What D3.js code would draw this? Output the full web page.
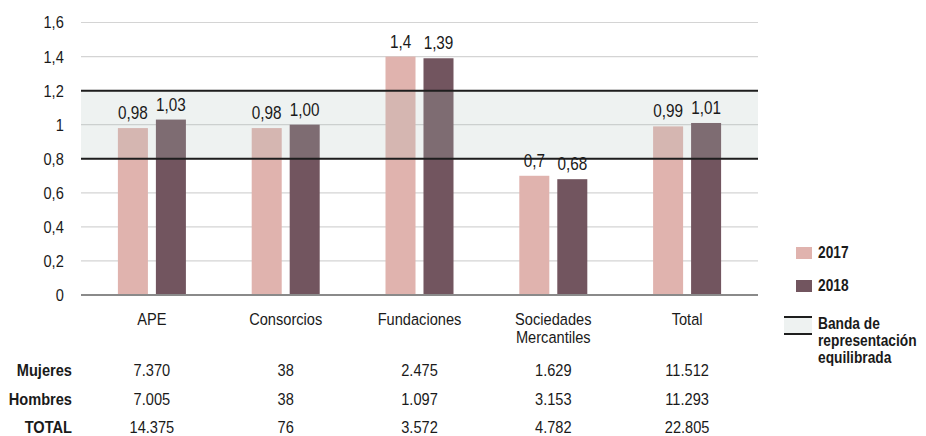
<!DOCTYPE html>
<html><head><meta charset="utf-8">
<script src="https://cdn.jsdelivr.net/npm/d3@7"></script>
<style>body{margin:0;background:#fff}svg{display:block}text{font-family:"Liberation Sans",Arial,sans-serif;fill:#1a1a1a}</style>
</head><body><svg id="c" width="926" height="436"></svg>
<script>
const categories = ["APE","Consorcios","Fundaciones","Sociedades\nMercantiles","Total"];
const years = ["2017","2018"];
const values2017 = [0.98,0.98,1.4,0.7,0.99];
const values2018 = [1.03,1.00,1.39,0.68,1.01];
const labels2017 = ["0,98","0,98","1,4","0,7","0,99"];
const labels2018 = ["1,03","1,00","1,39","0,68","1,01"];
const tickValues = [0,0.2,0.4,0.6,0.8,1,1.2,1.4,1.6];
const tickLabels = ["0","0,2","0,4","0,6","0,8","1","1,2","1,4","1,6"];
const bandRange = [0.8,1.2];
const rowNames = ["Mujeres","Hombres","TOTAL"];
const mujeres = ["7.370","38","2.475","1.629","11.512"];
const hombres = ["7.005","38","1.097","3.153","11.293"];
const totales = ["14.375","76","3.572","4.782","22.805"];
const legendLabels = ["2017","2018"];
const bandLegend = ["Banda de","representación","equilibrada"];

const colors = {"2017":"#e0b3ae","2018":"#72555f"};
const svg = d3.select("#c");
const SX = 0.86;
function txt(x,y,s,size,anchor,weight,sx){
  return svg.append("text").attr("transform",`translate(${x},${y}) scale(${sx||SX},1)`)
    .attr("text-anchor",anchor||"middle").style("font-size",size+"px").style("font-weight",weight||"normal").text(s);
}
const gx0=81, gx1=758;
const y = d3.scaleLinear().domain([0,1.6]).range([295,22.5]);
const x0 = d3.scaleBand().domain(categories).range([85,754]).padding(0);
const x1 = d3.scaleBand().domain(years).range([0,68]).paddingInner(0.21).paddingOuter(0);
const off = x0.bandwidth()/2 - 34;

// gridlines
svg.append("g").selectAll("line").data(tickValues.filter(d=>d>0)).join("line")
  .attr("x1",gx0).attr("x2",gx1).attr("y1",d=>y(d)).attr("y2",d=>y(d))
  .attr("stroke","#d4d4d4").attr("stroke-width",1.2);

// axis labels
const ax = svg.append("g").attr("transform",`translate(${gx0},0)`)
  .call(d3.axisLeft(y).tickValues(tickValues).tickSize(0).tickFormat((d,i)=>tickLabels[i]));
ax.select(".domain").remove();
ax.selectAll("text").attr("x",-20).attr("transform",`scale(${SX},1)`)
  .style("font-size","17px").style("font-family","'Liberation Sans',Arial,sans-serif").attr("fill","#1a1a1a");

// bars
const data = [];
categories.forEach((c,i)=>{
  data.push({c,yr:"2017",v:values2017[i],l:labels2017[i]});
  data.push({c,yr:"2018",v:values2018[i],l:labels2018[i]});
});
svg.append("g").selectAll("rect").data(data).join("rect")
  .attr("x",d=>x0(d.c)+off+x1(d.yr)).attr("width",x1.bandwidth())
  .attr("y",d=>y(d.v)).attr("height",d=>y(0)-y(d.v)).attr("fill",d=>colors[d.yr]);

// band overlay
svg.append("rect").attr("x",gx0).attr("width",gx1-gx0).attr("y",y(bandRange[1])).attr("height",y(bandRange[0])-y(bandRange[1]))
  .attr("fill","rgb(175,192,187)").attr("fill-opacity",0.21);
svg.append("g").selectAll("line").data(bandRange).join("line")
  .attr("x1",gx0).attr("x2",gx1).attr("y1",d=>y(d)).attr("y2",d=>y(d))
  .attr("stroke","#1e1e1e").attr("stroke-width",2);
// baseline
svg.append("line").attr("x1",gx0).attr("x2",gx1).attr("y1",y(0)).attr("y2",y(0)).attr("stroke","#8a8a8a").attr("stroke-width",2);

// value labels
data.forEach(d=>{
  txt(x0(d.c)+off+x1(d.yr)+x1.bandwidth()/2, y(d.v)-9, d.l, 18, "middle", "normal", 0.85);
});

// category labels
categories.forEach(c=>{
  const parts=c.split("\n");
  parts.forEach((p,j)=>txt(x0(c)+x0.bandwidth()/2, 325+j*18, p, 17, "middle"));
});

// table
const rows=[mujeres,hombres,totales];
const rowY=[376,405,433];
rowNames.forEach((r,i)=>{
  txt(72,rowY[i],r,17,"end","bold");
  categories.forEach((c,j)=>txt(x0(c)+x0.bandwidth()/2,rowY[i],rows[i][j],17,"middle"));
});

// legend
legendLabels.forEach((l,i)=>{
  svg.append("rect").attr("x",796).attr("y",247+i*33).attr("width",16).attr("height",12).attr("fill",colors[l]);
  txt(818,258+i*33,l,16,"start","bold");
});
svg.append("rect").attr("x",784).attr("y",317).attr("width",28).attr("height",17).attr("fill","rgb(175,192,187)").attr("fill-opacity",0.21);
[317,334].forEach(v=>svg.append("line").attr("x1",784).attr("x2",812).attr("y1",v).attr("y2",v).attr("stroke","#1e1e1e").attr("stroke-width",2));
bandLegend.forEach((l,i)=>txt(818,329+i*17,l,16,"start","bold"));
</script></body></html>
